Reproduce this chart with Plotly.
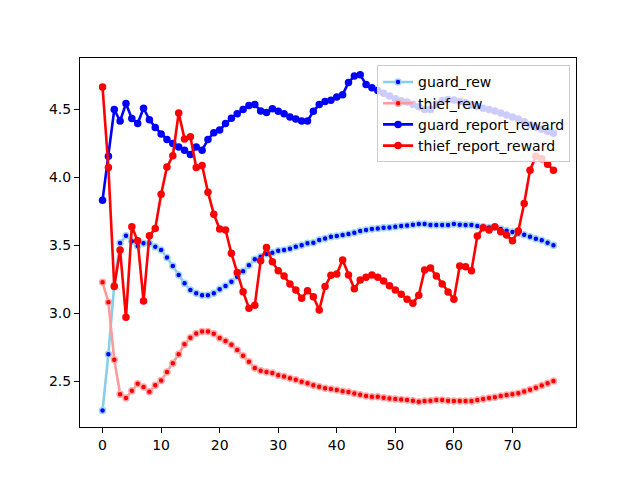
import plotly.graph_objects as go

steps = list(range(78))

guard_rew = [2.284, 2.698, 3.208, 3.517, 3.570, 3.530, 3.495, 3.515, 3.515, 3.490,
             3.465, 3.410, 3.348, 3.282, 3.220, 3.171, 3.147, 3.132, 3.132, 3.147,
             3.176, 3.200, 3.232, 3.269, 3.310, 3.353, 3.397, 3.416, 3.436, 3.446,
             3.460, 3.465, 3.475, 3.490, 3.500, 3.515, 3.519, 3.539, 3.551, 3.563,
             3.568, 3.576, 3.583, 3.593, 3.605, 3.613, 3.620, 3.625, 3.630, 3.632,
             3.637, 3.642, 3.647, 3.652, 3.657, 3.657, 3.650, 3.650, 3.650, 3.650,
             3.657, 3.652, 3.650, 3.650, 3.642, 3.637, 3.632, 3.632, 3.620, 3.607,
             3.598, 3.588, 3.578, 3.563, 3.549, 3.537, 3.520, 3.500]

thief_rew = [3.228, 3.081, 2.657, 2.404, 2.375, 2.429, 2.480, 2.456, 2.421, 2.470,
             2.504, 2.568, 2.632, 2.698, 2.772, 2.820, 2.850, 2.865, 2.865, 2.848,
             2.818, 2.796, 2.767, 2.730, 2.686, 2.642, 2.596, 2.576, 2.568, 2.559,
             2.544, 2.534, 2.522, 2.510, 2.495, 2.485, 2.470, 2.458, 2.448, 2.441,
             2.434, 2.426, 2.419, 2.409, 2.400, 2.390, 2.385, 2.385, 2.377, 2.372,
             2.368, 2.365, 2.360, 2.355, 2.348, 2.353, 2.355, 2.360, 2.360, 2.355,
             2.353, 2.353, 2.353, 2.353, 2.360, 2.368, 2.375, 2.382, 2.390, 2.397,
             2.404, 2.411, 2.424, 2.436, 2.451, 2.468, 2.485, 2.500]

guard_report_reward = [3.833, 4.157, 4.500, 4.416, 4.544, 4.434, 4.397, 4.510, 4.426, 4.368,
                       4.320, 4.280, 4.250, 4.225, 4.200, 4.170, 4.225, 4.200, 4.280, 4.330,
                       4.350, 4.397, 4.436, 4.470, 4.500, 4.530, 4.537, 4.490, 4.478, 4.507,
                       4.487, 4.470, 4.446, 4.430, 4.416, 4.416, 4.487, 4.537, 4.559, 4.568,
                       4.593, 4.610, 4.700, 4.747, 4.757, 4.684, 4.660, 4.640, 4.620, 4.600,
                       4.580, 4.565, 4.555, 4.540, 4.520, 4.500, 4.500, 4.540, 4.565, 4.575,
                       4.570, 4.560, 4.550, 4.535, 4.525, 4.510, 4.500, 4.490, 4.475, 4.460,
                       4.445, 4.430, 4.410, 4.390, 4.370, 4.355, 4.340, 4.325]

thief_report_reward = [4.666, 4.074, 3.196, 3.465, 2.970, 3.637, 3.534, 3.090, 3.570, 3.625,
                       3.877, 4.078, 4.160, 4.475, 4.284, 4.300, 4.074, 4.088, 3.892, 3.730,
                       3.620, 3.613, 3.441, 3.300, 3.159, 3.037, 3.059, 3.387, 3.485, 3.379,
                       3.313, 3.274, 3.216, 3.171, 3.110, 3.166, 3.122, 3.024, 3.196, 3.280,
                       3.289, 3.392, 3.282, 3.181, 3.245, 3.265, 3.282, 3.265, 3.237, 3.203,
                       3.171, 3.140, 3.103, 3.074, 3.132, 3.318, 3.333, 3.274, 3.216, 3.157,
                       3.103, 3.348, 3.343, 3.313, 3.568, 3.630, 3.613, 3.637, 3.600, 3.576,
                       3.534, 3.605, 3.809, 4.054, 4.157, 4.137, 4.098, 4.054]

x_ticks = [0, 10, 20, 30, 40, 50, 60, 70]
y_ticks = [2.5, 3.0, 3.5, 4.0, 4.5]

fig = go.Figure()
fig.add_trace(go.Scatter(
    x=steps, y=guard_rew, name="guard_rew", mode="lines+markers",
    line=dict(color="#87CEEB", width=2.6),
    marker=dict(color="blue", size=6, line=dict(color="#9dd6f0", width=1.5))))
fig.add_trace(go.Scatter(
    x=steps, y=thief_rew, name="thief_rew", mode="lines+markers",
    line=dict(color="#ff9a9a", width=2.6),
    marker=dict(color="red", size=6, line=dict(color="#ffaaaa", width=1.5))))
fig.add_trace(go.Scatter(
    x=steps, y=guard_report_reward, name="guard_report_reward", mode="lines+markers",
    line=dict(color="blue", width=2.6),
    marker=dict(color="blue", size=7.5)))
fig.add_trace(go.Scatter(
    x=steps, y=thief_report_reward, name="thief_report_reward", mode="lines+markers",
    line=dict(color="red", width=2.6),
    marker=dict(color="red", size=7.5)))

axis_common = dict(showgrid=False, zeroline=False, showline=True, linecolor="black",
                   linewidth=1, mirror=True, ticks="outside", ticklen=5,
                   tickcolor="black", tickwidth=1,
                   tickfont=dict(family="DejaVu Sans", size=14, color="black"))

fig.update_layout(
    width=640, height=480,
    margin=dict(l=80, r=64, t=58, b=53),
    paper_bgcolor="white", plot_bgcolor="white",
    font=dict(family="DejaVu Sans", size=14, color="black"),
    xaxis=dict(range=[-3.85, 80.85], tickvals=x_ticks, **axis_common),
    yaxis=dict(range=[2.162, 4.88], tickvals=y_ticks, tickformat=".1f", **axis_common),
    legend=dict(x=0.988, y=0.98, xanchor="right", yanchor="top",
                bgcolor="rgba(255,255,255,0.8)", bordercolor="#cccccc", borderwidth=1,
                font=dict(family="DejaVu Sans", size=14, color="black"),
                tracegroupgap=0, itemwidth=30),
    showlegend=True,
)

fig.write_html("out.html")
